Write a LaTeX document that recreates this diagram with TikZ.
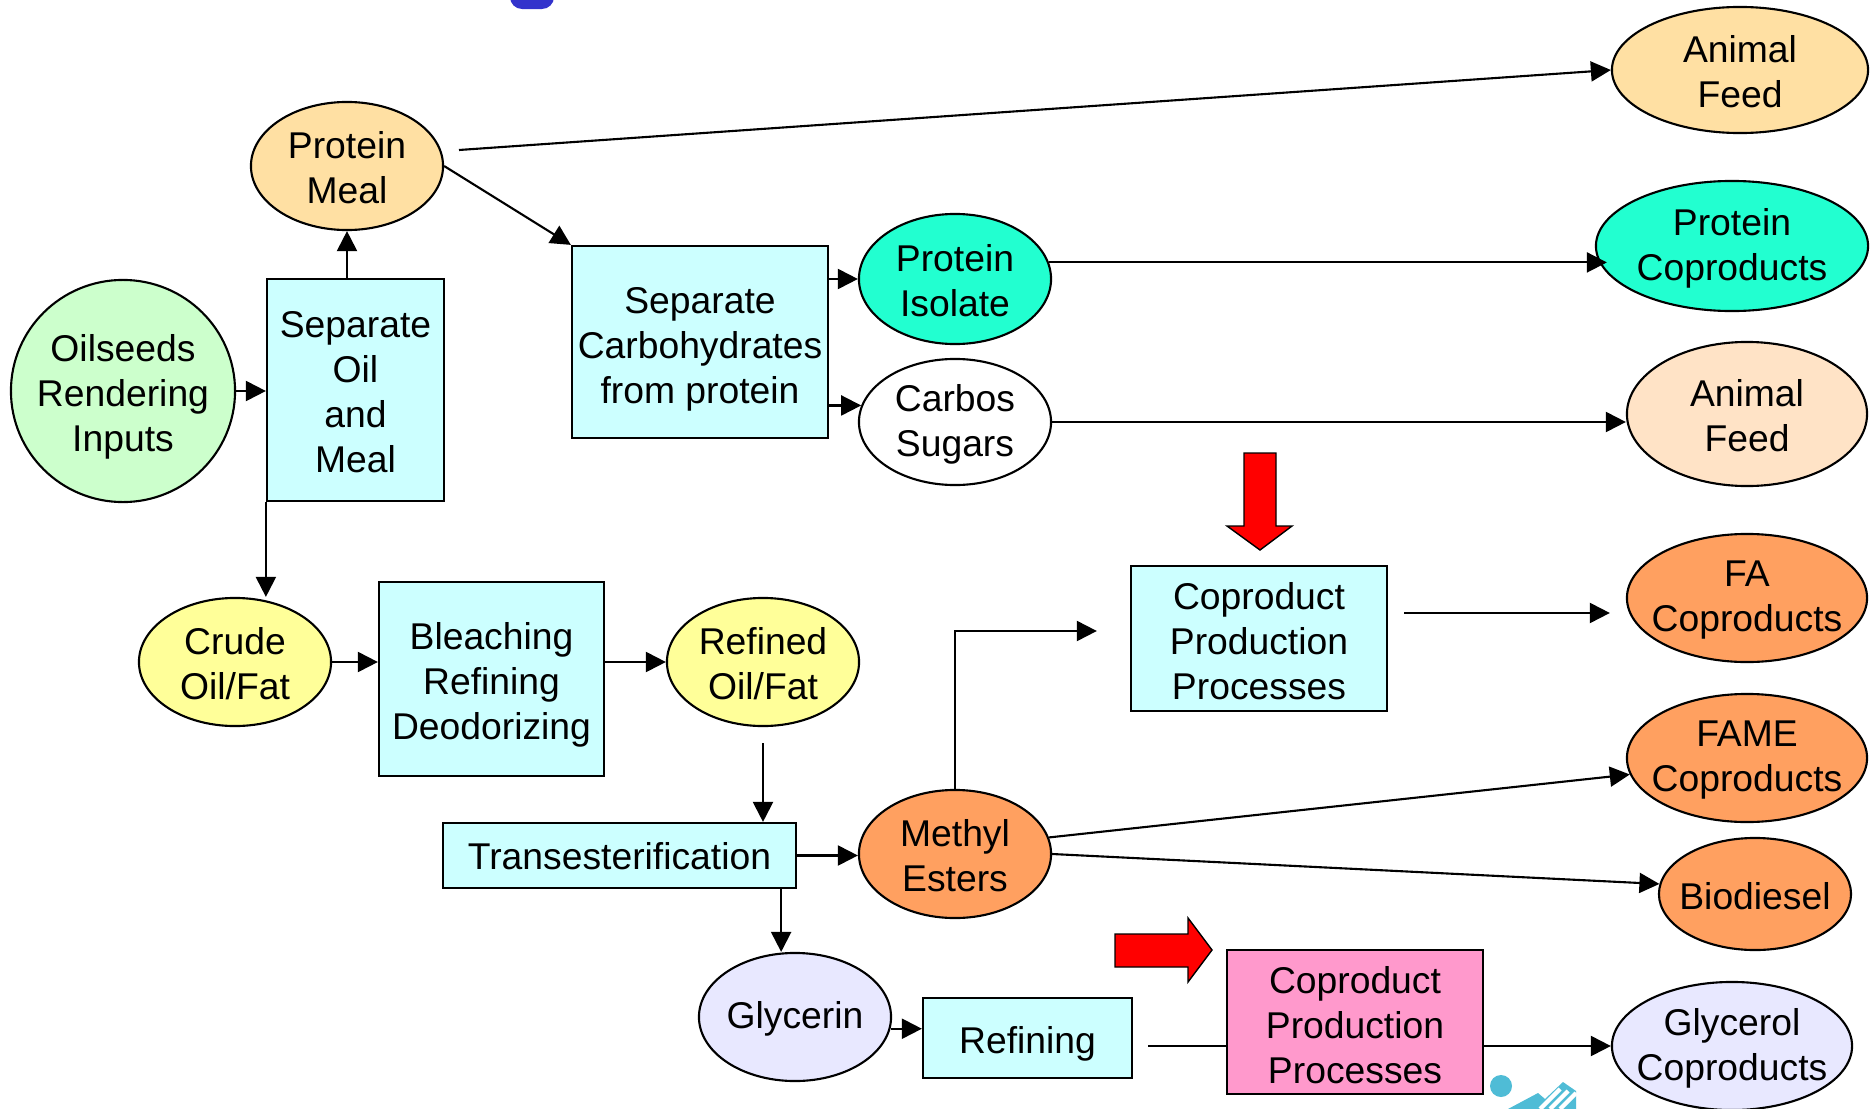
\documentclass[tikz,border=0pt]{standalone}
\usepackage{fontspec}
\setmainfont{Liberation Sans}
\usetikzlibrary{arrows.meta,shapes.geometric,calc}
\definecolor{cboxc}{HTML}{CCFFFF}
\definecolor{cgreen}{HTML}{CCFFCC}
\definecolor{cmeal}{HTML}{FFE0A3}
\definecolor{cteal}{HTML}{22FFD0}
\definecolor{cpeach}{HTML}{FFE3C6}
\definecolor{corange}{HTML}{FFA060}
\definecolor{cyellow}{HTML}{FFFF99}
\definecolor{clav}{HTML}{E8E8FF}
\definecolor{cpink}{HTML}{FF99CC}
\definecolor{cblob}{HTML}{3333CC}
\definecolor{clogo}{HTML}{4FBCD6}
\begin{document}
\begin{tikzpicture}[x=0.01cm,y=-0.01cm,
  every node/.style={font=\fontsize{10.6}{12.8}\selectfont, align=center, inner sep=0pt},
  ell/.style={ellipse, draw, line width=0.6pt},
  box/.style={rectangle, draw, line width=0.6pt, fill=cboxc},
  conn/.style={line width=0.6pt, -{Triangle[length=0.2cm,width=0.2cm]}},
  plain/.style={line width=0.6pt},
  redarrow/.style={fill=red, draw=black, line width=0.4pt}]
\useasboundingbox (0,0) rectangle (1875,1109);
\fill[white] (0,0) rectangle (1875,1109);

% decorations
\begin{scope}
\clip (0,0) rectangle (1875,1109);
\fill[cblob, rounded corners=0.12cm] (510,-30) rectangle (554,9);
\fill[clogo] (1501,1086) circle (0.11cm);
\fill[clogo] (1508,1109) -- (1538,1093) -- (1545,1099) -- (1563,1082) -- (1576,1091) -- (1576,1109) -- cycle;
\draw[white, line width=1.2pt] (1540,1109) -- (1560,1089) (1550,1109) -- (1568,1091) (1560,1109) -- (1576,1093);
\end{scope}

% ellipse nodes (shape) and their texts
\node[ell, fill=cgreen, minimum width=2.24cm, minimum height=2.22cm] (oil) at (123,391) {};
\node at ([yshift=-0.06cm]oil.center) {Oilseeds\\Rendering\\Inputs};
\node[ell, fill=cmeal, minimum width=1.92cm, minimum height=1.28cm] (pm) at (347,166) {};
\node at ([yshift=-0.02cm]pm.center) {Protein\\Meal};
\node[ell, fill=cteal, minimum width=1.92cm, minimum height=1.30cm] (pi) at (955,279) {};
\node at ([yshift=-0.02cm]pi.center) {Protein\\Isolate};
\node[ell, fill=white, minimum width=1.92cm, minimum height=1.26cm] (cs) at (955,422) {};
\node at ([yshift=-0.02cm]cs.center) {Carbos\\Sugars};
\node[ell, fill=cmeal, minimum width=2.56cm, minimum height=1.26cm] (af1) at (1740,70) {};
\node at ([yshift=-0.02cm]af1.center) {Animal\\Feed};
\node[ell, fill=cteal, minimum width=2.72cm, minimum height=1.30cm] (pc) at (1732,246) {};
\node at ([yshift=-0.02cm]pc.center) {Protein\\Coproducts};
\node[ell, fill=cpeach, minimum width=2.40cm, minimum height=1.44cm] (af2) at (1747,414) {};
\node at ([yshift=-0.02cm]af2.center) {Animal\\Feed};
\node[ell, fill=corange, minimum width=2.40cm, minimum height=1.28cm] (fa) at (1747,598) {};
\node at ([yshift=-0.02cm]fa.center) {FA\\Coproducts};
\node[ell, fill=cyellow, minimum width=1.92cm, minimum height=1.28cm] (cr) at (235,662) {};
\node at ([yshift=-0.02cm]cr.center) {Crude\\Oil/Fat};
\node[ell, fill=cyellow, minimum width=1.92cm, minimum height=1.28cm] (rf) at (763,662) {};
\node at ([yshift=-0.02cm]rf.center) {Refined\\Oil/Fat};
\node[ell, fill=corange, minimum width=1.92cm, minimum height=1.28cm] (me) at (955,854) {};
\node at ([yshift=-0.02cm]me.center) {Methyl\\Esters};
\node[ell, fill=corange, minimum width=2.40cm, minimum height=1.28cm] (fame) at (1747,758) {};
\node at ([yshift=-0.02cm]fame.center) {FAME\\Coproducts};
\node[ell, fill=corange, minimum width=1.92cm, minimum height=1.12cm] (bd) at (1755,894) {};
\node at ([yshift=-0.02cm]bd.center) {Biodiesel};
\node[ell, fill=clav, minimum width=1.92cm, minimum height=1.28cm] (gl) at (795,1017) {};
\node at ([yshift=-0.02cm]gl.center) {Glycerin};
\node[ell, fill=clav, minimum width=2.40cm, minimum height=1.28cm] (gc) at (1732,1046) {};
\node at ([yshift=-0.02cm]gc.center) {Glycerol\\Coproducts};

% boxes
\node[box, minimum width=1.77cm, minimum height=2.22cm] (sep) at (355.5,390) {};
\node at ([yshift=-0.025cm]sep.center) {Separate\\Oil\\and\\Meal};
\node[box, minimum width=2.56cm, minimum height=1.92cm] (sc) at (700,342) {};
\node at ([yshift=-0.07cm]sc.center) {Separate\\Carbohydrates\\from protein};
\node[box, minimum width=2.56cm, minimum height=1.45cm] (cp) at (1259,638.5) {};
\node at ([yshift=-0.03cm]cp.center) {Coproduct\\Production\\Processes};
\node[box, minimum width=2.25cm, minimum height=1.94cm] (bl) at (491.5,679) {};
\node at ([yshift=-0.06cm]bl.center) {Bleaching\\Refining\\Deodorizing};
\node[box, minimum width=3.53cm, minimum height=0.65cm] (tr) at (619.5,855.5) {};
\node at ([yshift=-0.01cm]tr.center) {Transesterification};
\node[box, minimum width=2.09cm, minimum height=0.80cm] (rfn) at (1027.5,1038) {};
\node at ([yshift=-0.06cm]rfn.center) {Refining};

% connectors
\draw[conn] (oil.east) -- (sep.west |- oil.east);
\draw[conn] (pm.south |- sep.north) -- (pm.south);
\draw[conn] (sep.south west) -- (sep.south west |- cr.north);
\draw[conn] (pm.east) -- (sc.north west);
\coordinate (pmstart) at (459,150);
\draw[conn] (pmstart) -- (af1.west);
\draw[conn] (sc.east |- pi.west) -- (pi.west);
\draw[conn] (sc.east |- cs.170) -- (cs.170);
\draw[conn] (pi.10) -- ([xshift=1.2mm]pi.10 -| pc.west);
\draw[conn] (cs.east) -- (cs.east -| af2.west);
\coordinate (cpout) at ([xshift=0.16cm, yshift=0.255cm]cp.east);
\draw[conn] (cpout) -- ([xshift=-0.16cm]fa.west |- cpout);
\draw[conn] (me.north) |- ([xshift=-0.33cm, yshift=0.075cm]cp.west);
\draw[conn] (cr.east) -- (bl.west |- cr.east);
\draw[conn] (bl.east |- rf.west) -- (rf.west);
\draw[conn] ([yshift=-0.16cm]rf.south) -- (rf.south |- tr.north);
\draw[conn] (tr.east) -- (tr.east -| me.west);
\coordinate (tg) at ([xshift=-0.16cm]tr.south east);
\draw[conn] (tg) -- (tg |- gl.north);
\draw[conn] (me.10) -- (fame.188);
\draw[conn] (me.east) -- (bd.174);
\draw[conn] (gl.353) -- (gl.353 -| rfn.west);
\coordinate (rs) at ([xshift=0.15cm]rfn.east |- gc.west);
\draw[conn] (rs) -- (gc.west);

\node[box, fill=cpink, minimum width=2.56cm, minimum height=1.44cm] (pk) at (1355,1022) {};
\node at ([yshift=-0.03cm]pk.center) {Coproduct\\Production\\Processes};

% red block arrows
\draw[redarrow] (1244,453) -- (1276,453) -- (1276,526) -- (1292,526) -- (1260,550) -- (1227,526) -- (1244,526) -- cycle;
\draw[redarrow] (1115,934) -- (1188,934) -- (1188,918) -- (1212,950) -- (1188,982) -- (1188,967) -- (1115,967) -- cycle;
\end{tikzpicture}
\end{document}
